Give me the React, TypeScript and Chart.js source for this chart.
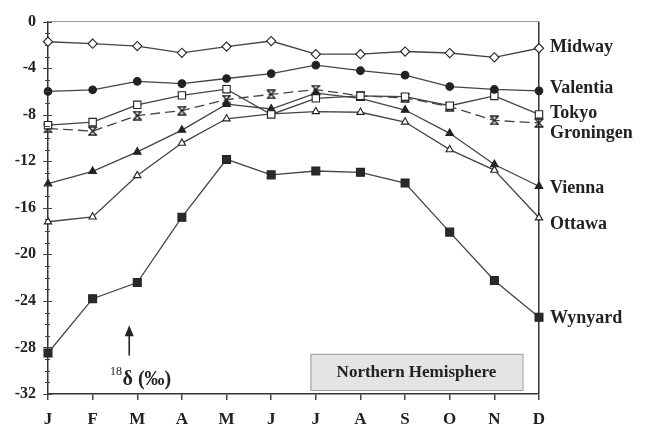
import { useEffect, useRef } from "react";
import { Chart, registerables } from "chart.js";

Chart.register(...registerables);

// Monthly mean delta-18O of precipitation (per mil), Northern Hemisphere stations
const months = ["J", "F", "M", "A", "M", "J", "J", "A", "S", "O", "N", "D"];
const midway = [-1.73, -1.9, -2.1, -2.68, -2.15, -1.67, -2.8, -2.8, -2.57, -2.7, -3.07, -2.29];
const valentia = [-6.0, -5.86, -5.13, -5.33, -4.89, -4.47, -3.74, -4.21, -4.6, -5.58, -5.83, -5.95];
const tokyo = [-8.9, -8.63, -7.15, -6.34, -5.81, -7.98, -6.59, -6.39, -6.45, -7.23, -6.39, -7.98];
const groningen = [-9.18, -9.41, -8.07, -7.65, -6.7, -6.25, -5.84, -6.39, -6.55, -7.3, -8.49, -8.71];
const vienna = [-13.93, -12.87, -11.2, -9.32, -7.1, -7.51, -6.15, -6.59, -7.6, -9.6, -12.28, -14.15];
const ottawa = [-17.2, -16.78, -13.23, -10.44, -8.35, -7.93, -7.73, -7.79, -8.63, -11.0, -12.76, -16.86];
const wynyard = [-28.48, -23.81, -22.42, -16.81, -11.84, -13.17, -12.84, -12.95, -13.87, -18.09, -22.25, -25.4];

const yMin = -32;
const yMax = 0;
const yStep = 4;
const panelTitle = "Northern Hemisphere";

const SERIF = '"Liberation Serif", "Times New Roman", serif';
const LINE = "#444";
const INK = "#222";

// small vertical nudges (px) so the station names at the right edge do not collide
const labelNudge: Record<string, number> = {
  Midway: -1,
  Valentia: -2,
  Tokyo: -1,
  Groningen: 10,
  Vienna: 2,
  Ottawa: 7,
  Wynyard: 1,
};

// X-shaped marker closed by a bar on top and bottom
function makeAsterisk(): HTMLCanvasElement {
  const c = document.createElement("canvas");
  c.width = 11;
  c.height = 10;
  const g = c.getContext("2d")!;
  g.strokeStyle = INK;
  g.lineWidth = 1.4;
  g.beginPath();
  g.moveTo(2, 1.2);
  g.lineTo(9, 8.8);
  g.moveTo(9, 1.2);
  g.lineTo(2, 8.8);
  g.moveTo(1, 1);
  g.lineTo(10, 1);
  g.moveTo(1, 9);
  g.lineTo(10, 9);
  g.stroke();
  return c;
}

const decorations = {
  id: "decorations",
  afterDraw(chart: any) {
    const { ctx, chartArea, scales } = chart;
    const xs = scales.x;
    const ys = scales.y;
    ctx.save();

    // y-axis major and minor tick marks
    ctx.strokeStyle = "#444";
    ctx.lineWidth = 1;
    for (let v = yMin; v <= yMax; v++) {
      const py = Math.round(ys.getPixelForValue(v)) + 0.5;
      const major = v % yStep === 0;
      ctx.beginPath();
      ctx.moveTo(chartArea.left - (major ? 5 : 3), py);
      ctx.lineTo(chartArea.left + (major ? 4 : 2), py);
      ctx.stroke();
    }

    // station names next to the December values
    ctx.fillStyle = INK;
    ctx.font = `bold 18px ${SERIF}`;
    ctx.textAlign = "left";
    ctx.textBaseline = "middle";
    chart.data.datasets.forEach((ds: any) => {
      const last = ds.data[ds.data.length - 1];
      const py = ys.getPixelForValue(last) + (labelNudge[ds.label] || 0);
      ctx.fillText(ds.label, chartArea.right + 11, py);
    });

    // panel title box
    const bx0 = xs.getPixelForValue(5.88);
    const bx1 = xs.getPixelForValue(10.63);
    const by0 = ys.getPixelForValue(-28.55);
    const by1 = ys.getPixelForValue(-31.65);
    ctx.fillStyle = "#e4e4e4";
    ctx.fillRect(bx0, by0, bx1 - bx0, by1 - by0);
    ctx.strokeStyle = "#999";
    ctx.lineWidth = 1;
    ctx.strokeRect(bx0 + 0.5, by0 + 0.5, bx1 - bx0, by1 - by0);
    ctx.fillStyle = INK;
    ctx.font = `bold 17px ${SERIF}`;
    ctx.textAlign = "center";
    ctx.textBaseline = "middle";
    ctx.fillText(panelTitle, (bx0 + bx1) / 2, (by0 + by1) / 2 + 1);

    // axis quantity marker: arrow with 18δ (‰)
    const ax = xs.getPixelForValue(1.82);
    const aTop = ys.getPixelForValue(-26.1);
    const aBot = ys.getPixelForValue(-28.7);
    ctx.strokeStyle = INK;
    ctx.fillStyle = INK;
    ctx.lineWidth = 1.6;
    ctx.beginPath();
    ctx.moveTo(ax, aBot);
    ctx.lineTo(ax, aTop + 7);
    ctx.stroke();
    ctx.beginPath();
    ctx.moveTo(ax, aTop);
    ctx.lineTo(ax - 4.5, aTop + 11);
    ctx.lineTo(ax + 4.5, aTop + 11);
    ctx.closePath();
    ctx.fill();

    const tx = xs.getPixelForValue(1.39);
    const ty = ys.getPixelForValue(-30.6);
    ctx.textAlign = "left";
    ctx.textBaseline = "alphabetic";
    ctx.font = `12px ${SERIF}`;
    ctx.fillText("18", tx, ty - 3);
    const supW = ctx.measureText("18").width;
    ctx.font = `bold 20px ${SERIF}`;
    ctx.fillText("δ (‰)", tx + supW + 0.5, ty + 7);

    ctx.restore();
  },
};

export default function App() {
  const ref = useRef<HTMLCanvasElement | null>(null);

  useEffect(() => {
    if (!ref.current) return;
    const asterisk = makeAsterisk();

    const base = {
      borderColor: LINE,
      borderWidth: 1.3,
      pointBorderColor: INK,
      pointBorderWidth: 1.1,
      tension: 0,
      fill: false,
    };

    const chart = new Chart(ref.current, {
      type: "line",
      data: {
        labels: months,
        datasets: [
          { ...base, label: "Midway", data: midway, pointStyle: "rectRot", pointRadius: 4.6, pointBackgroundColor: "#fff" },
          { ...base, label: "Valentia", data: valentia, pointStyle: "circle", pointRadius: 3.8, pointBackgroundColor: INK },
          { ...base, label: "Tokyo", data: tokyo, pointStyle: "rect", pointRadius: 5.2, pointBackgroundColor: "#fff" },
          { ...base, label: "Groningen", data: groningen, pointStyle: asterisk, borderDash: [10, 5] },
          { ...base, label: "Vienna", data: vienna, pointStyle: "triangle", pointRadius: 4.4, pointBackgroundColor: INK },
          { ...base, label: "Ottawa", data: ottawa, pointStyle: "triangle", pointRadius: 4.2, pointBackgroundColor: "#fff" },
          { ...base, label: "Wynyard", data: wynyard, pointStyle: "rect", pointRadius: 5.6, pointBackgroundColor: "#2a2a2a" },
        ],
      },
      options: {
        responsive: false,
        animation: false,
        layout: { padding: { top: 12, right: 108, left: 0, bottom: 0 } },
        plugins: {
          legend: { display: false },
          tooltip: { enabled: false },
          title: { display: false },
        },
        scales: {
          x: {
            type: "category",
            offset: false,
            afterFit: (s: any) => {
              s.height = 40;
            },
            grid: {
              drawOnChartArea: true,
              color: (c: any) => (c.index === months.length - 1 ? "#333" : "rgba(0,0,0,0)"),
              lineWidth: 1.5,
              tickColor: "#444",
              tickLength: 6,
              drawTicks: true,
            },
            border: { display: true, color: "#333", width: 1.5 },
            ticks: {
              color: INK,
              font: { family: SERIF, size: 17, weight: "bold" },
              padding: 9,
              autoSkip: false,
              maxRotation: 0,
            },
          },
          y: {
            min: yMin,
            max: yMax,
            afterFit: (s: any) => {
              s.width = 48;
            },
            grid: {
              drawTicks: false,
              color: (c: any) => (c.tick && c.tick.value === 0 ? "#9a9a9a" : "rgba(0,0,0,0)"),
              lineWidth: 1,
            },
            border: { display: true, color: "#333", width: 1.5 },
            ticks: {
              stepSize: yStep,
              color: INK,
              font: { family: SERIF, size: 16, weight: "bold" },
              padding: 12,
            },
          },
        },
      } as any,
      plugins: [decorations],
    });

    return () => chart.destroy();
  }, []);

  return (
    <div style={{ position: "absolute", left: 0, top: 0, width: 647, height: 434, background: "#fff" }}>
      <canvas ref={ref} width={647} height={434} />
    </div>
  );
}
